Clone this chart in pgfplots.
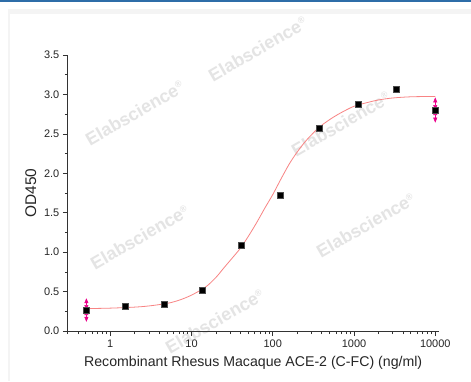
\documentclass[border=0pt]{standalone}
\usepackage{fontspec}
\setmainfont{Liberation Sans}
\usepackage{pgfplots}
\pgfplotsset{compat=1.18}
\usetikzlibrary{arrows.meta}
\definecolor{fitred}{HTML}{F88484}
\definecolor{wm}{HTML}{E4E4E4}
\definecolor{topblue}{HTML}{2E6DA8}
\definecolor{panel}{HTML}{F4F4F4}
\begin{document}
\begin{tikzpicture}[x=1bp,y=1bp]
\useasboundingbox (0,0) rectangle (471,381);
\fill[white] (0,0) rectangle (471,381);
\fill[topblue] (0,378.5) rectangle (471,381);
\fill[panel] (9,367) rectangle (471,372);
\fill[panel] (8,0) rectangle (10,372);
% watermarks
\foreach \px/\py in {135/268, 258/332, 140/144, 341/257, 366/156, 215/60}{
  \node[rotate=30, text=wm, font=\fontsize{18}{18}\selectfont\bfseries, inner sep=0pt] at (\px,\py) {Elabscience\textsuperscript{\fontsize{9}{9}\selectfont ®}};
}
\begin{axis}[
  at={(67.8bp,50bp)}, anchor=south west,
  scale only axis, width=370.8bp, height=276bp,
  xmode=log, xmin=0.3, xmax=11000,
  ymin=0, ymax=3.5,
  axis x line*=bottom, axis y line*=left,
  axis line style={-, black!80, line width=0.8bp},
  every tick/.style={black!80, line width=0.7bp},
  tick align=outside,
  major tick length=5bp, minor tick length=3bp,
  xtick={1,10,100,1000,10000},
  xticklabels={1,10,100,1000,10000},
  minor xtick={0.3,0.4,0.5,0.6,0.7,0.8,0.9,2,3,4,5,6,7,8,9,20,30,40,50,60,70,80,90,200,300,400,500,600,700,800,900,2000,3000,4000,5000,6000,7000,8000,9000},
  ytick={0,0.5,1,1.5,2,2.5,3,3.5},
  minor ytick={0.25,0.75,1.25,1.75,2.25,2.75,3.25},
  yticklabel style={/pgf/number format/.cd, fixed, fixed zerofill, precision=1, assume math mode=true},
  xticklabel style={/pgf/number format/assume math mode=true},
  tick label style={font=\fontsize{11}{13}\selectfont, text=black!85},
  xlabel={Recombinant Rhesus Macaque ACE-2 (C-FC) (ng/ml)},
  ylabel={OD450},
  xlabel style={at={([yshift=-32bp]axis description cs:0.5,0)}, anchor=center, font=\fontsize{14.2}{16}\selectfont, text=black!85},
  ylabel style={at={([xshift=-37bp]axis description cs:0,0.5)}, anchor=center, font=\fontsize{15.5}{17}\selectfont, text=black!85},
  clip=false,
]
% fitted curve
\addplot[fitred, line width=0.8bp, smooth, no marks] coordinates {
(0.5,0.284) (1,0.290) (2,0.303) (3,0.318) (5,0.350) (7,0.39) (10,0.455)
(15,0.56) (20,0.68) (25,0.80) (32,0.93) (40,1.05) (50,1.20) (63,1.37)
(80,1.56) (100,1.73) (125,1.92) (160,2.12) (200,2.27) (260,2.42) (370,2.58)
(500,2.68) (670,2.76) (1000,2.85) (1500,2.90) (2000,2.93) (3000,2.955)
(5000,2.97) (10000,2.975)
};
% data points
\addplot[only marks, mark=square*, mark size=3bp, mark options={fill=black, draw=black!70, line width=0.4bp},
  error bars/.cd, y dir=both, y explicit, error mark=none,
  error bar style={magenta, line width=0.6bp, {Triangle[width=4bp,length=5bp]}-{Triangle[width=4bp,length=5bp]}}]
coordinates {
(0.508,0.266) +- (0,0.15)
(1.524,0.317)
(4.572,0.334)
(13.72,0.520)
(41.15,1.082)
(123.5,1.725)
(370.4,2.574)
(1111,2.882)
(3333,3.069)
(10000,2.802) +- (0,0.16)
};
\end{axis}
\end{tikzpicture}
\end{document}
